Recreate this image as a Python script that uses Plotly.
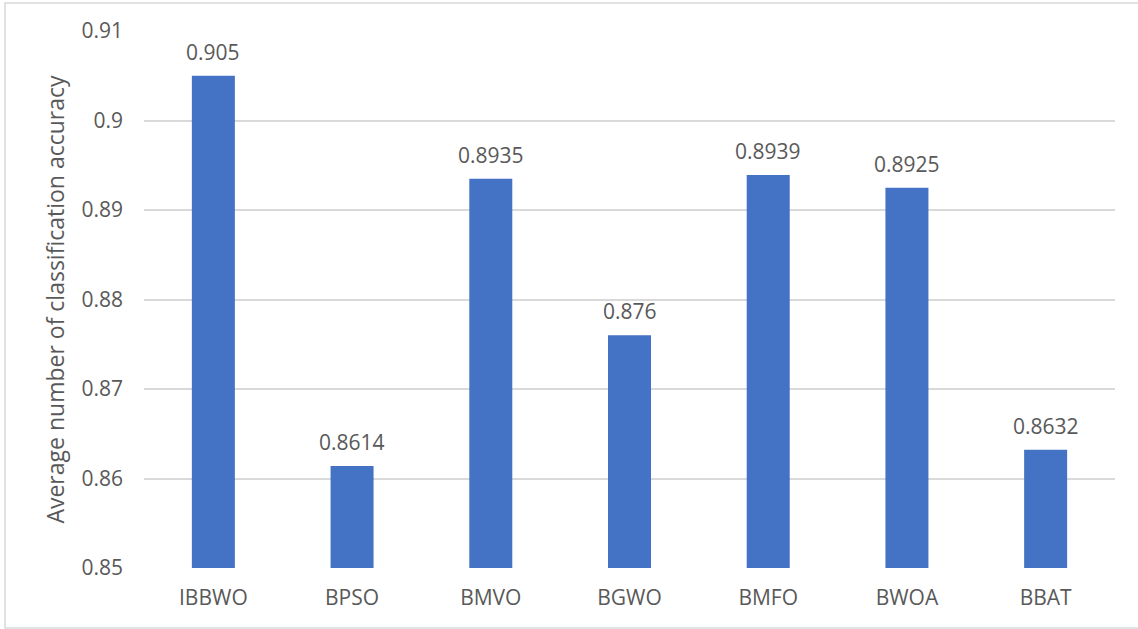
import plotly.graph_objects as go

# Average classification accuracy per algorithm
algorithms = ["IBBWO", "BPSO", "BMVO", "BGWO", "BMFO", "BWOA", "BBAT"]
accuracy = [0.905, 0.8614, 0.8935, 0.876, 0.8939, 0.8925, 0.8632]
value_labels = ["0.905", "0.8614", "0.8935", "0.876", "0.8939", "0.8925", "0.8632"]
y_ticks = [0.85, 0.86, 0.87, 0.88, 0.89, 0.9, 0.91]
y_tick_text = ["0.85", "0.86", "0.87", "0.88", "0.89", "0.9", "0.91"]

AXIS_FLOOR = 0.85
W, H = 1138, 629
ML, MR, MT, MB = 144, 23, 31, 61
FONT = "Open Sans, Noto Sans, Liberation Sans, sans-serif"
TEXT_COLOR = "#595959"
GRID = "#D9D9D9"
FS = 21

fig = go.Figure(
    go.Bar(
        x=algorithms,
        y=[v - AXIS_FLOOR for v in accuracy],
        base=AXIS_FLOOR,
        marker=dict(color="#4472C4", line=dict(width=0)),
        hoverinfo="skip",
    )
)

for name, val, lab in zip(algorithms, accuracy, value_labels):
    fig.add_annotation(
        x=name, y=val, text=lab, showarrow=False,
        yanchor="bottom", yshift=8,
        font=dict(family=FONT, size=FS, color=TEXT_COLOR),
    )

# outer chart frame
pw, ph = W - ML - MR, H - MT - MB
fig.add_shape(
    type="rect", xref="paper", yref="paper",
    x0=(5 - ML) / pw, x1=(W + 5 - ML) / pw,
    y0=(H - MB - 628) / ph, y1=(H - MB - 3) / ph,
    line=dict(color=GRID, width=1.5), fillcolor="rgba(0,0,0,0)", layer="below",
)

fig.update_layout(
    width=W, height=H,
    margin=dict(l=ML, r=MR, t=MT, b=MB),
    paper_bgcolor="white", plot_bgcolor="white",
    bargap=0.69,
    showlegend=False,
    font=dict(family=FONT, size=FS, color=TEXT_COLOR),
    xaxis=dict(
        showgrid=False, showline=False, zeroline=False, ticks="",
        tickfont=dict(family=FONT, size=FS, color=TEXT_COLOR),
        ticklabelstandoff=15,
    ),
    yaxis=dict(
        range=[0.85, 0.91], tickvals=y_ticks, ticktext=y_tick_text,
        showgrid=True, gridcolor=GRID, gridwidth=1.5,
        zeroline=False, showline=False, ticks="",
        tickfont=dict(family=FONT, size=FS, color=TEXT_COLOR),
        ticklabelstandoff=20,
        title=dict(text="Average number of classification accuracy",
                   font=dict(family=FONT, size=23, color=TEXT_COLOR),
                   standoff=10),
    ),
)

fig.write_html("out.html")
